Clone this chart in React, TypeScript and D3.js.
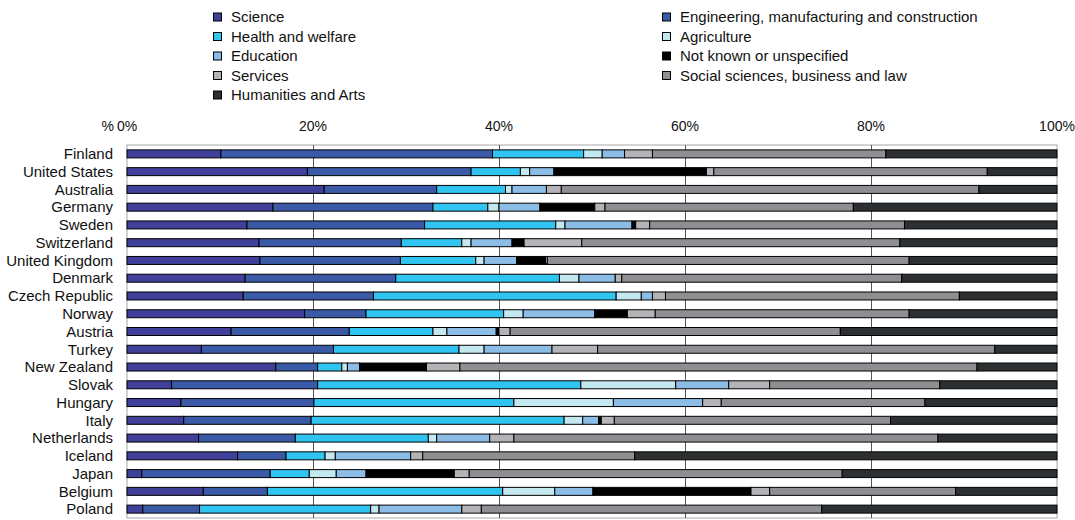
import React from 'react';
import * as d3 from 'd3';

// countries, top to bottom
const countries = [
  'Finland', 'United States', 'Australia', 'Germany', 'Sweden', 'Switzerland',
  'United Kingdom', 'Denmark', 'Czech Republic', 'Norway', 'Austria', 'Turkey',
  'New Zealand', 'Slovak', 'Hungary', 'Italy', 'Netherlands', 'Iceland', 'Japan',
  'Belgium', 'Poland',
];

// shares in % per field, same order as countries
const science = [10.1, 19.4, 21.2, 15.7, 12.9, 14.2, 14.3, 12.7, 12.5, 19.1, 11.2, 8.0, 16.0, 4.8, 5.8, 6.1, 7.7, 11.9, 1.6, 8.2, 1.7];
const engineering = [29.2, 17.6, 12.1, 17.2, 19.1, 15.3, 15.1, 16.2, 14.0, 6.6, 12.7, 14.2, 4.5, 15.7, 14.3, 13.7, 10.4, 5.2, 13.8, 6.9, 6.1];
const health = [9.8, 5.3, 7.4, 5.9, 14.1, 6.5, 8.1, 17.6, 26.1, 14.8, 9.0, 13.5, 2.6, 28.3, 21.5, 27.2, 14.3, 4.2, 4.2, 25.3, 18.4];
const agriculture = [2.0, 1.0, 0.7, 1.2, 1.0, 1.0, 0.9, 2.1, 2.7, 2.1, 1.5, 2.7, 0.6, 10.2, 10.7, 2.0, 0.9, 1.1, 2.9, 5.6, 0.9];
const education = [2.4, 2.6, 3.7, 4.4, 7.2, 4.4, 3.5, 3.9, 1.2, 7.7, 5.3, 7.3, 1.3, 5.7, 9.6, 1.7, 5.7, 8.1, 3.2, 4.1, 8.9];
const notKnown = [0, 16.4, 0, 5.9, 0.4, 1.3, 3.1, 0, 0, 3.5, 0.3, 0, 7.2, 0, 0, 0.3, 0, 0, 9.5, 17.0, 0];
const services = [3.0, 0.8, 1.6, 1.1, 1.5, 6.2, 0.2, 0.7, 1.4, 3.0, 1.2, 4.9, 3.6, 4.4, 2.0, 1.4, 2.6, 1.3, 1.6, 2.0, 2.1];
const socialSciences = [25.1, 29.4, 44.9, 26.7, 27.4, 34.2, 38.9, 30.1, 31.6, 27.3, 35.5, 42.7, 55.6, 18.3, 21.9, 29.7, 45.6, 22.8, 40.1, 20.0, 36.6];
const humanities = [18.4, 7.5, 8.4, 21.9, 16.4, 16.9, 15.9, 16.7, 10.5, 15.9, 23.3, 6.7, 8.6, 12.6, 14.2, 17.9, 12.8, 45.4, 23.1, 10.9, 25.3];

const seriesNames = [
  'Science',
  'Engineering, manufacturing and construction',
  'Health and welfare',
  'Agriculture',
  'Education',
  'Not known or unspecified',
  'Services',
  'Social sciences, business and law',
  'Humanities and Arts',
];
const seriesValues = [science, engineering, health, agriculture, education, notKnown, services, socialSciences, humanities];
const colors = ['#40409a', '#3a5aa8', '#30c4f0', '#c4e8f0', '#8cbde6', '#000000', '#b4b4b8', '#8f8f93', '#2d3033'];

const ticks = [0, 20, 40, 60, 80, 100];

const font = '"Liberation Sans", Arial, sans-serif';

const App = () => {
  const width = 1075;
  const height = 520;
  const plot = { left: 127, right: 1057, top: 145, bottom: 518 };

  // one row object per country, built from the arrays above
  const rows = countries.map((c, i) => {
    const r: any = { country: c };
    seriesNames.forEach((s, j) => (r[s] = seriesValues[j][i]));
    return r;
  });

  const stacked = d3.stack().keys(seriesNames)(rows);

  const x = d3.scaleLinear().domain([0, 100]).range([plot.left, plot.right]);
  const y = d3.scaleBand()
    .domain(countries)
    .range([plot.top, plot.bottom])
    .paddingInner(0.55)
    .paddingOuter(0.275);

  // legend: two columns, filled row by row
  const legendX = [213, 662];
  const legendY = (row: number) => 17 + row * 19.5;

  return (
    <svg width={width} height={height} style={{ position: 'absolute', left: 0, top: 0, fontFamily: font }}>
      <rect x={0} y={0} width={width} height={height} fill="#fff" />

      {seriesNames.map((s, i) => {
        const col = i % 2;
        const row = Math.floor(i / 2);
        const cy = legendY(row);
        return (
          <g key={s}>
            <rect x={legendX[col] + 0.5} y={cy - 4} width={8} height={8} fill={colors[i]} stroke="#000" strokeWidth={1} />
            <text x={legendX[col] + 18} y={cy} dy="0.35em" fontSize={15} fill="#111">{s}</text>
          </g>
        );
      })}

      {/* plot frame */}
      <rect x={plot.left} y={plot.top} width={plot.right - plot.left} height={plot.bottom - plot.top}
        fill="none" stroke="#a8a8a8" strokeWidth={1} />

      {/* gridlines */}
      {ticks.filter(t => t > 0 && t < 100).map(t => (
        <line key={t} x1={Math.round(x(t)) + 0.5} x2={Math.round(x(t)) + 0.5} y1={plot.top} y2={plot.bottom}
          stroke="#555" strokeWidth={1} />
      ))}

      {/* tick labels on top */}
      {ticks.map(t => (
        <text key={t} x={x(t)} y={131} textAnchor="middle" fontSize={14} fill="#111">{t}%</text>
      ))}
      <text x={x(0) - 13} y={131} textAnchor="end" fontSize={14} fill="#111">%</text>

      {/* bars */}
      {stacked.map((layer, i) => (
        <g key={layer.key} fill={colors[i]}>
          {layer.map((d: any, k) => {
            const w = x(d[1]) - x(d[0]);
            if (w <= 0) return null;
            return (
              <rect key={countries[k]} x={x(d[0])} y={y(countries[k])} width={w} height={y.bandwidth()}
                stroke="#000" strokeWidth={1} />
            );
          })}
        </g>
      ))}

      {/* country labels */}
      {countries.map(c => (
        <text key={c} x={113} y={(y(c) as number) + y.bandwidth() / 2} dy="0.35em" textAnchor="end"
          fontSize={15} fill="#111">{c}</text>
      ))}
    </svg>
  );
};

export default App;
